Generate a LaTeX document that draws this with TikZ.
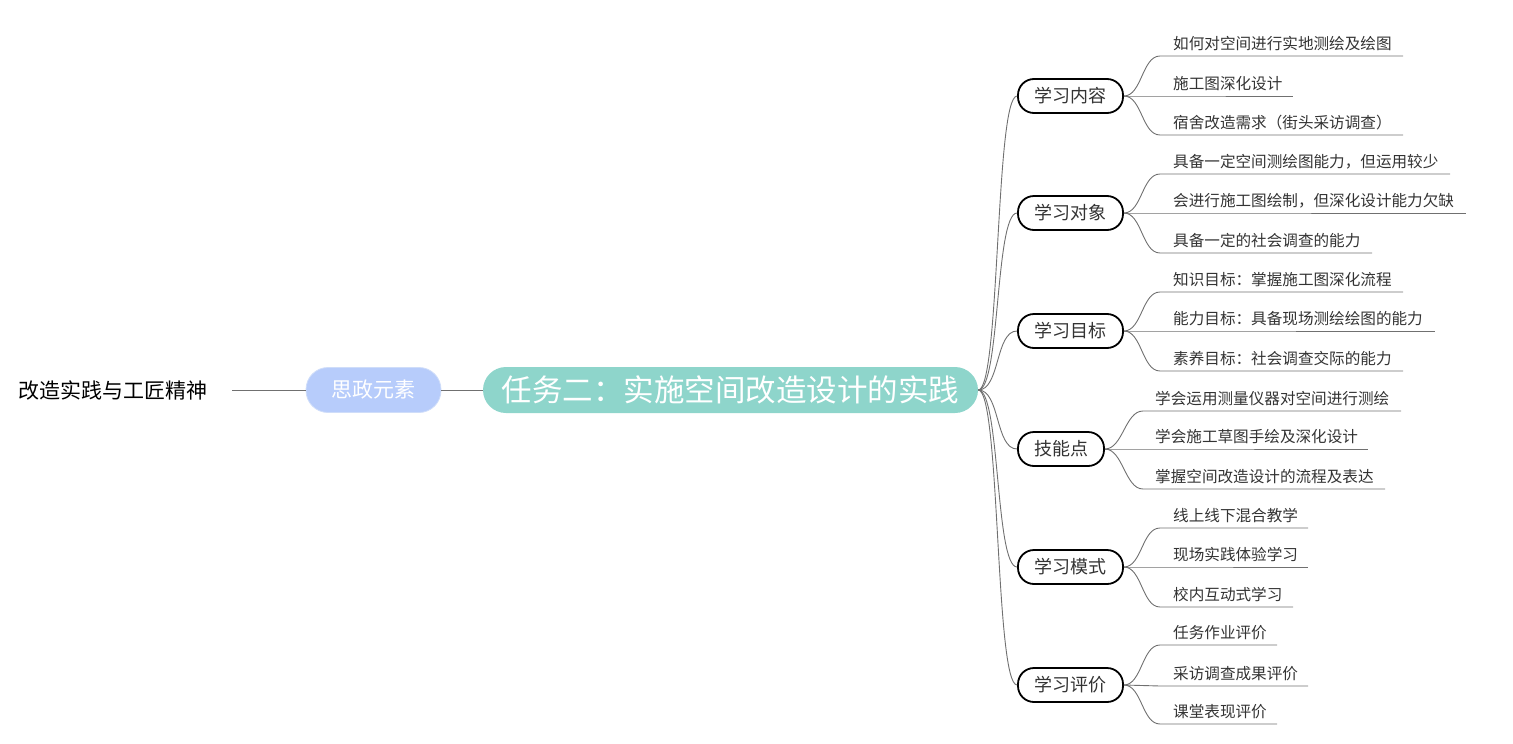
\documentclass[tikz,border=0pt]{standalone}
\usepackage{fontspec}
\newfontfamily\cjk{Noto Sans CJK SC}
\definecolor{teal1}{HTML}{8ED5CB}
\definecolor{blue1}{HTML}{B7CCFB}
\definecolor{blueb}{HTML}{CFDDF9}
\definecolor{linegray}{HTML}{707070}
\definecolor{textdark}{HTML}{333333}
\newcommand\myleaf[7]{%
  \coordinate (#1s) at (#4,#3);
  \coordinate (#1e) at (#5,#3);
  \node[leaf] (#1) at (#6,#3-7) {#7};
  \draw[conn] (#2.east) .. controls +(18,0) and +(-18,0) .. (#1s) -- (#1e);
}
\begin{document}
\begin{tikzpicture}[x=1pt,y=-1pt,
  conn/.style={draw=linegray, line width=0.9pt},
  catbox/.style={draw=black, line width=1.8pt, fill=white, rounded corners=16pt,
    minimum width=105pt, minimum height=34pt, inner sep=0pt,
    font=\cjk\fontsize{18}{18}\selectfont, text=textdark},
  leaf/.style={anchor=base west, inner sep=0pt, font=\cjk\fontsize{15.6}{15.6}\selectfont, text=textdark}]
\useasboundingbox (0,0) rectangle (1513,744);

\node[fill=teal1, rounded corners=23pt, minimum width=495pt, minimum height=46pt, inner sep=0pt,
  text=white, font=\cjk\fontsize{30.5}{30.5}\selectfont] (root) at (730.5,390) {任务二：实施空间改造设计的实践};
\node[fill=blue1, draw=blueb, line width=0.8pt, rounded corners=22pt, minimum width=135pt, minimum height=45pt, inner sep=0pt,
  text=white, font=\cjk\fontsize{21}{21}\selectfont] (sz) at (373.5,390) {思政元素};
\node[inner xsep=24pt, inner ysep=0pt, text=black, font=\cjk\fontsize{21}{21}\selectfont, anchor=east] (left) at (232,390) {改造实践与工匠精神};

\draw[conn] (left.east) -- (sz.west);
\draw[conn] (sz.east) -- (root.west);

\node[catbox] (c1) at (1070.5,96) {学习内容};
\node[catbox] (c2) at (1070.5,213) {学习对象};
\node[catbox] (c3) at (1070.5,331) {学习目标};
\node[catbox, minimum width=86pt] (c4) at (1061,449) {技能点};
\node[catbox] (c5) at (1070.5,567) {学习模式};
\node[catbox] (c6) at (1070.5,685) {学习评价};

\foreach \c in {c1,c2,c3,c4,c5,c6}{
  \draw[conn] (root.east) .. controls +(22,0) and +(-22,0) .. (\c.west);
}

\myleaf{l11}{c1}{56}{1160}{1403}{1173}{如何对空间进行实地测绘及绘图}
\myleaf{l12}{c1}{96}{1160}{1293}{1173}{施工图深化设计}
\myleaf{l13}{c1}{135}{1160}{1403}{1173}{宿舍改造需求（街头采访调查）}

\myleaf{l21}{c2}{174}{1160}{1450}{1173}{具备一定空间测绘图能力，但运用较少}
\myleaf{l22}{c2}{213}{1160}{1466}{1173}{会进行施工图绘制，但深化设计能力欠缺}
\myleaf{l23}{c2}{253}{1160}{1372}{1173}{具备一定的社会调查的能力}

\myleaf{l31}{c3}{292}{1160}{1403}{1173}{知识目标：掌握施工图深化流程}
\myleaf{l32}{c3}{331}{1160}{1435}{1173}{能力目标：具备现场测绘绘图的能力}
\myleaf{l33}{c3}{371}{1160}{1403}{1173}{素养目标：社会调查交际的能力}

\myleaf{l41}{c4}{411}{1143}{1401}{1155}{学会运用测量仪器对空间进行测绘}
\myleaf{l42}{c4}{449}{1143}{1368}{1155}{学会施工草图手绘及深化设计}
\myleaf{l43}{c4}{489}{1143}{1385}{1155}{掌握空间改造设计的流程及表达}

\myleaf{l51}{c5}{528}{1160}{1308}{1173}{线上线下混合教学}
\myleaf{l52}{c5}{567}{1160}{1308}{1173}{现场实践体验学习}
\myleaf{l53}{c5}{607}{1160}{1293}{1173}{校内互动式学习}

\myleaf{l61}{c6}{645}{1160}{1277}{1173}{任务作业评价}
\myleaf{l62}{c6}{686}{1160}{1308}{1173}{采访调查成果评价}
\myleaf{l63}{c6}{724}{1160}{1277}{1173}{课堂表现评价}
\end{tikzpicture}
\end{document}
